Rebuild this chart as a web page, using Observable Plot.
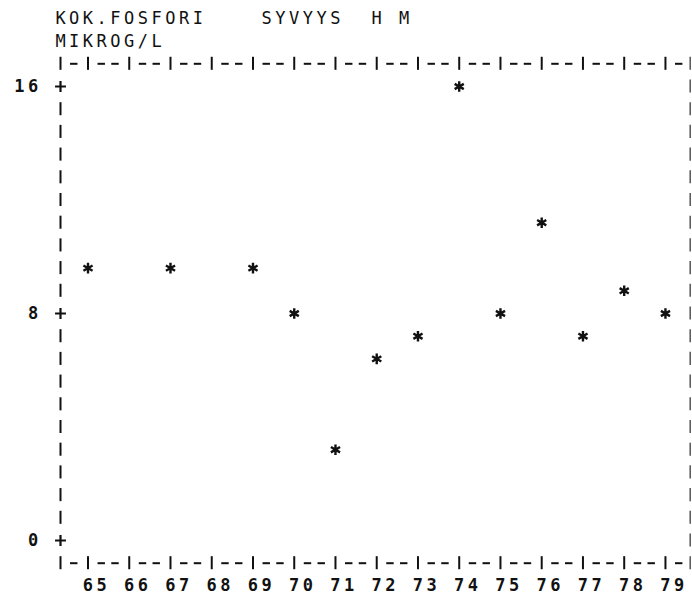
<!DOCTYPE html>
<html><head><meta charset="utf-8">
<script src="https://cdn.jsdelivr.net/npm/d3@7"></script>
<script src="https://cdn.jsdelivr.net/npm/@observablehq/plot@0.6"></script>
<style>body{margin:0;background:#fff}</style>
</head><body><div id="chart"></div>
<script>
// ---- data ----
const years = [65,66,67,68,69,70,71,72,73,74,75,76,77,78,79];
const pointYears = [65,67,69,70,71,72,73,74,75,76,77,78,79];
const values = [9.6,9.6,9.6,8.0,3.2,6.4,7.2,16.0,8.0,11.2,7.2,8.8,8.0];
const yTicks = [0,8,16];
const titleLine1 = "KOK.FOSFORI    SYVYYS  H M";
const titleLine2 = "MIKROG/L";

// ---- printer grid helpers (columns = 1/3 year, rows = 0.8 units) ----
const rowStep = 0.8;
const colX = c => 65 + (c - 2) / 3;
const lastCol = 45;
const borderX = 79.6;

const chars = [];   // letters / digits
const bars = [];    // '|' characters
const dashes = [];  // '-' characters
const pluses = [];  // '+' characters

function addString(str, startCol, row, bold) {
  [...str].forEach((ch, i) => { if (ch !== " ") chars.push({x: colX(startCol + i), y: row * rowStep, ch, bold}); });
}
addString(titleLine1, 0, 23, false);
addString(titleLine2, 0, 22, false);

// tick rows above and below the frame
for (const row of [21, -1]) {
  bars.push({x: colX(0), y: row * rowStep});
  for (let c = 1; c <= lastCol; c++) {
    if ((c - 2) % 3 === 0) bars.push({x: colX(c), y: row * rowStep});
    else dashes.push({x: colX(c), y: row * rowStep});
  }
}
// left axis
for (let r = 0; r <= 20; r++) {
  const v = r * rowStep;
  if (yTicks.some(t => Math.abs(t - v) < 1e-6)) pluses.push({x: colX(0), y: v});
  else bars.push({x: colX(0), y: v});
}
// right border
for (let r = -1; r <= 21; r++) bars.push({x: borderX, y: r * rowStep, faint: true});
// y labels (right aligned, ending at column -2)
yTicks.forEach(t => { const s = String(t); addString(s, -1 - s.length, Math.round(t / rowStep), true); });
// x labels
years.forEach(yr => addString(String(yr), 2 + 3 * (yr - 65), -2, true));

const points = pointYears.map((yr, i) => ({year: yr, value: values[i]}));

const chart = Plot.plot({
  width: 692, height: 596,
  marginLeft: 60, marginRight: 692 - 689.7, marginTop: 86, marginBottom: 56,
  x: {domain: [65 - 2/3, borderX], axis: null},
  y: {domain: [0, 16], axis: null},
  style: {background: "#fff", color: "#111"},
  marks: [
    Plot.ruleX(bars, {x: "x", y1: d => d.y - 0.23, y2: d => d.y + 0.23, stroke: d => d.faint ? "#555" : "#111", strokeWidth: d => d.faint ? 1.5 : 2}),
    Plot.ruleY(dashes, {y: "y", x1: d => d.x - 0.09, x2: d => d.x + 0.09, stroke: "#111", strokeWidth: 2}),
    Plot.dot(pluses, {x: "x", y: "y", symbol: "plus", r: 3.6, fill: "none", stroke: "#111", strokeWidth: 2.2}),
    Plot.text(chars.filter(d => !d.bold), {x: "x", y: "y", text: "ch", fontSize: 17, fontFamily: "DejaVu Sans Mono", fill: "#111"}),
    Plot.text(chars.filter(d => d.bold), {x: "x", y: "y", text: "ch", fontSize: 17, fontWeight: "bold", fontFamily: "DejaVu Sans Mono", fill: "#111"}),
    Plot.dot(points, {x: "year", y: "value", symbol: "asterisk", r: 5, stroke: "#111", strokeWidth: 2.4})
  ]
});
document.getElementById("chart").append(chart);
</script>
</body></html>
